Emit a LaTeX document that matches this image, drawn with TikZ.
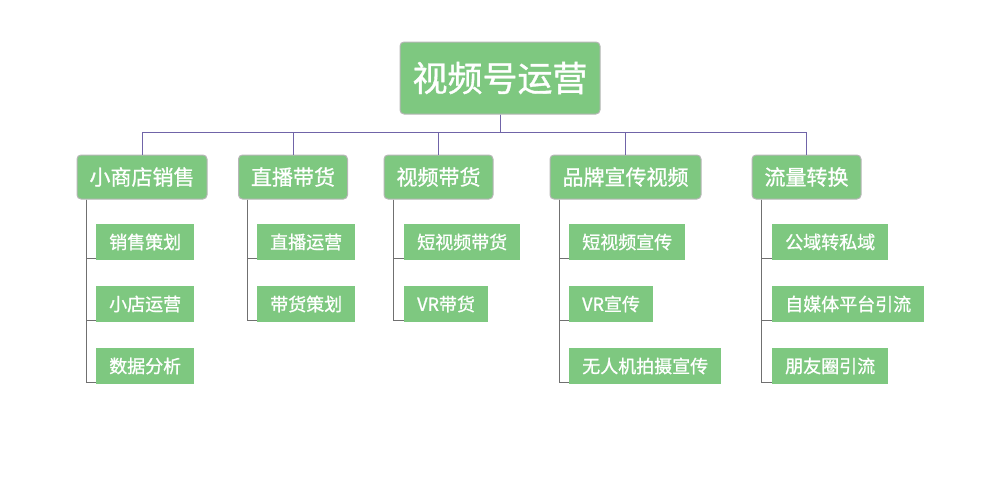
\documentclass[tikz,border=0pt]{standalone}
\usepackage{fontspec}
\newfontfamily\cjk[FakeBold=1]{Noto Sans CJK SC}
\definecolor{boxgreen}{RGB}{126,200,128}
\definecolor{boxborder}{RGB}{182,182,182}
\definecolor{buscol}{RGB}{112,100,168}
\definecolor{treecol}{RGB}{112,112,112}
\begin{document}
\begin{tikzpicture}[x=1pt,y=-1pt,
  rootbox/.style={draw=boxborder,fill=boxgreen,rounded corners=4pt,text=white,
    font=\cjk\fontsize{35}{40}\selectfont,minimum height=72pt,inner xsep=12.5pt,line width=1pt},
  catbox/.style={draw=boxborder,fill=boxgreen,rounded corners=4pt,text=white,
    font=\cjk\fontsize{21}{24}\selectfont,minimum height=44pt,inner xsep=12.5pt,line width=1pt},
  leafbox/.style={fill=boxgreen,text=white,anchor=west,
    font=\cjk\fontsize{18}{21}\selectfont,minimum height=36pt,inner xsep=13pt},
  bus/.style={draw=buscol,line width=1pt},
  tree/.style={draw=treecol,line width=1pt}]
\useasboundingbox (0,0) rectangle (983,485);
\node[rootbox] (root) at (500,78) {视频号运营};
\coordinate (busy) at (500,132);
\node[catbox] (a) at (142,177) {小商店销售};
\node[catbox] (b) at (293,177) {直播带货};
\node[catbox] (c) at (438.5,177) {视频带货};
\node[catbox] (d) at (625.5,177) {品牌宣传视频};
\node[catbox] (e) at (806.5,177) {流量转换};
\foreach \n in {a,b,c,d,e}
  \draw[bus] (root.south) -- (root.south |- busy) -| (\n.north);
% leaves
\node[leafbox] (a1) at (96,242) {销售策划};
\node[leafbox] (a2) at (96,304) {小店运营};
\node[leafbox] (a3) at (96,366) {数据分析};
\node[leafbox] (b1) at (257,242) {直播运营};
\node[leafbox] (b2) at (257,304) {带货策划};
\node[leafbox] (c1) at (404,242) {短视频带货};
\node[leafbox] (c2) at (404,304) {VR带货};
\node[leafbox] (d1) at (569,242) {短视频宣传};
\node[leafbox] (d2) at (569,304) {VR宣传};
\node[leafbox] (d3) at (569,366) {无人机拍摄宣传};
\node[leafbox] (e1) at (772,242) {公域转私域};
\node[leafbox] (e2) at (772,304) {自媒体平台引流};
\node[leafbox] (e3) at (772,366) {朋友圈引流};
\foreach \p/\c in {a/a1,a/a2,a/a3,b/b1,b/b2,c/c1,c/c2,d/d1,d/d2,d/d3,e/e1,e/e2,e/e3}
  \draw[tree] ([xshift=9.5pt]\p.south west) |- ([yshift=2pt]\c.south west);
\end{tikzpicture}
\end{document}
